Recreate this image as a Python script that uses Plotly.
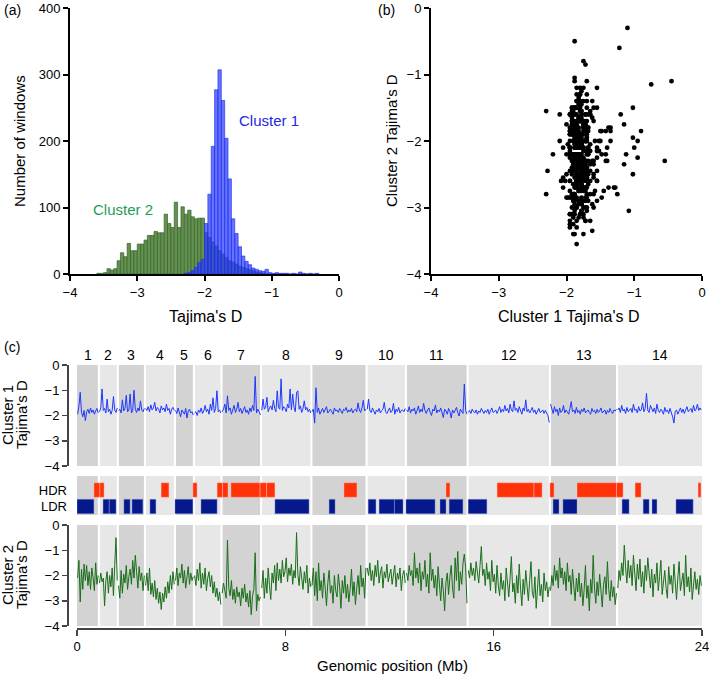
import plotly.graph_objects as go

W, H = 709, 674
def px(x): return x / W
def py(y): return 1 - y / H

# ---------------- Panel (a): histogram counts (bin width 0.05) ----------------
HIST_WIDTH = 0.05
CLUSTER2_HIST_START = -3.60
CLUSTER2_COUNTS = [1, 1, 2, 8, 6, 8, 20, 32, 26, 46, 35, 35, 45, 45, 51, 58, 58, 64, 62, 62,
                   90, 76, 70, 108, 70, 101, 90, 96, 86, 83, 84, 84, 62, 55, 48, 42, 35, 30, 25, 20,
                   18, 15, 12, 10, 8, 7, 5, 3, 2, 1]
CLUSTER1_HIST_START = -2.30
CLUSTER1_COUNTS = [1, 2, 5, 10, 17, 22, 76, 120, 192, 277, 307, 261, 204, 143, 83, 61, 41, 27, 19, 14,
                   9, 7, 5, 4, 7, 2, 1, 2, 1, 1, 1, 0, 1, 0, 3, 1, 0, 1, 0, 1]

# ---------------- Panel (c): genome layout ----------------
CHROM_NAMES = ["1", "2", "3", "4", "5", "6", "7", "8", "9", "10", "11", "12", "13", "14"]
CHROM_BOUNDS_MB = [0, 0.84, 1.57, 2.61, 3.76, 4.49, 5.55, 7.07, 9.0, 11.12, 12.63, 15.0, 18.16, 20.74, 24.0]

HDR_START = [0.65, 0.88, 3.23, 4.45, 5.38, 5.59, 5.91, 7.03, 7.28, 10.25, 14.17, 16.13, 17.55, 18.16, 19.20, 20.72, 21.43, 23.85]
HDR_END   = [0.88, 1.04, 3.53, 4.61, 5.59, 5.80, 7.03, 7.28, 7.60, 10.75, 14.32, 17.55, 17.86, 18.32, 20.72, 20.97, 21.66, 23.96]
LDR_START = [0.0, 1.0, 1.24, 1.80, 2.11, 2.80, 3.76, 4.76, 7.60, 9.68, 11.18, 11.60, 12.19, 12.63, 13.94, 14.29, 15.02, 18.28, 18.66, 20.93, 21.74, 22.08, 23.0]
LDR_END   = [0.65, 1.24, 1.50, 2.04, 2.53, 3.03, 4.45, 5.38, 8.91, 9.91, 11.48, 12.19, 12.52, 13.75, 14.17, 14.82, 15.74, 18.51, 19.20, 21.20, 21.97, 22.27, 23.66]

# Tajima's D per window (windows evenly spaced along each chromosome)
CLUSTER1_D = [
    [-1.95,-1.62,-1.08,-1.88,-2.05,-1.80,-2.20,-1.85,-1.75,-1.92,-1.70,-1.88,-1.78,-1.95,-1.82,-1.72,-1.90],
    [-1.85,-1.70,-0.95,-1.80,-1.72,-1.90,-1.35,-1.85,-1.75,-1.95,-1.80,-1.25,-1.78,-1.88,-1.70],
    [-1.80,-1.75,-1.90,-1.38,-1.82,-1.72,-1.20,-1.85,-1.78,-1.15,-1.90,-1.80,-1.00,-1.75,-1.88,-1.70,-1.82,-1.42,-1.78,-1.85,-1.72],
    [-1.72,-1.80,-1.65,-1.85,-1.58,-1.78,-1.70,-1.48,-1.82,-1.68,-1.75,-1.90,-1.62,-1.78,-1.70,-1.85,-1.55,-1.80,-1.72,-1.95,-1.75,-1.68,-1.80],
    [-1.80,-1.92,-1.70,-1.88,-2.05,-1.78,-1.85,-1.95,-1.72,-2.10,-1.82,-1.75,-1.90,-1.85,-1.98],
    [-1.90,-1.85,-2.00,-1.78,-1.88,-1.70,-1.92,-1.82,-1.60,-1.85,-1.75,-1.95,-1.55,-1.80,-1.30,-1.88,-1.72,-1.02,-1.85,-1.78,-1.90],
    [-1.85,-1.75,-1.55,-1.90,-1.22,-1.80,-1.70,-1.95,-1.78,-1.60,-1.88,-1.75,-1.48,-1.85,-1.72,-1.92,-1.80,-1.65,-1.88,-1.78,-1.95,-1.70,-1.85,-1.60,-1.80,-0.45,-1.90,-1.75,-1.85,-1.98],
    [-1.80,-1.35,-1.75,-1.68,-1.28,-1.85,-1.70,-1.62,-1.78,-1.40,-1.72,-1.85,-1.02,-1.68,-1.75,-0.55,-1.80,-1.65,-1.72,-1.85,-1.55,-1.70,-0.95,-1.78,-1.15,-1.68,-1.85,-1.10,-1.02,-1.75,-1.62,-1.88,-1.72,-1.42,-1.78,-1.68,-1.85,-1.75,-1.90],
    [-1.85,-1.75,-2.30,-0.90,-1.88,-1.70,-1.95,-1.80,-1.72,-1.88,-1.78,-1.65,-1.90,-1.82,-1.75,-1.85,-1.95,-1.70,-1.82,-1.78,-1.88,-1.72,-1.85,-1.92,-1.75,-1.80,-1.68,-1.88,-1.78,-1.85,-1.72,-1.90,-1.80,-1.75,-1.85,-1.50,-1.78,-1.88,-1.70,-1.40,-1.82,-1.75],
    [-1.75,-1.35,-1.80,-1.88,-1.70,-1.82,-1.95,-1.78,-1.85,-1.72,-1.90,-1.80,-1.75,-1.48,-1.85,-1.92,-1.78,-1.70,-1.88,-1.82,-1.52,-1.95,-1.75,-1.85,-1.68,-1.90,-1.80,-1.78,-1.85,-1.72],
    [-1.78,-1.85,-1.65,-1.90,-1.75,-1.82,-1.70,-1.95,-1.80,-1.62,-1.88,-1.75,-1.85,-1.52,-1.80,-1.92,-1.78,-1.70,-1.88,-2.00,-1.75,-1.82,-1.58,-1.90,-1.78,-1.85,-1.70,-1.88,-2.08,-1.75,-1.82,-1.95,-1.72,-1.85,-2.10,-1.78,-1.90,-1.80,-1.68,-1.88,-2.02,-1.75,-1.85,-1.92,-0.75,-1.80,-1.95],
    [-1.88,-1.80,-1.92,-1.75,-1.85,-1.90,-1.78,-1.95,-1.82,-1.88,-1.72,-1.85,-1.92,-1.80,-1.88,-1.75,-1.95,-1.82,-1.70,-1.88,-1.85,-1.78,-1.92,-1.80,-1.65,-1.88,-1.75,-1.85,-1.60,-1.82,-1.72,-1.90,-1.55,-1.78,-1.85,-1.42,-1.80,-1.72,-1.88,-1.65,-1.78,-1.95,-1.70,-1.82,-1.38,-1.85,-1.75,-1.90,-1.80,-1.68,-1.88,-1.78,-1.95,-1.82,-1.72,-1.88,-1.85,-1.78,-1.92,-1.80,-1.88,-2.00,-2.28],
    [-1.55,-1.80,-1.92,-1.65,-1.85,-1.75,-2.00,-1.70,-1.88,-1.82,-1.60,-1.90,-1.78,-1.85,-1.95,-1.72,-1.45,-1.85,-1.78,-1.92,-1.68,-1.88,-1.80,-1.95,-1.75,-1.85,-1.70,-1.90,-1.82,-1.78,-1.88,-1.95,-1.72,-1.85,-1.80,-1.92,-1.75,-1.88,-1.82,-1.70,-1.90,-1.85,-1.78,-1.95,-1.80,-1.88,-1.72,-1.85,-1.92,-1.78,-1.82,-1.75],
    [-1.78,-1.70,-1.88,-1.60,-1.82,-1.75,-1.92,-1.68,-1.85,-1.78,-1.72,-1.88,-1.55,-1.80,-1.75,-1.90,-1.65,-1.82,-1.78,-1.50,-1.85,-1.72,-1.12,-1.80,-1.88,-1.60,-1.75,-1.85,-1.70,-1.92,-1.55,-1.80,-1.88,-1.75,-1.82,-1.95,-1.68,-1.85,-1.78,-1.92,-1.72,-1.88,-2.05,-2.30,-1.85,-1.78,-1.95,-1.82,-1.70,-1.88,-1.75,-1.92,-1.80,-1.65,-1.85,-1.78,-1.72,-1.88,-1.60,-1.82,-1.75,-1.55,-1.80,-1.70,-1.78],
]

CLUSTER2_D = [
    [-2.10,-1.40,-3.05,-1.75,-2.55,-1.55,-2.20,-1.60,-2.40,-1.85,-2.55,-1.70,-2.10,-2.60,-1.50,-2.35,-2.00],
    [-2.30,-1.90,-2.25,-2.10,-3.20,-2.20,-1.85,-2.70,-2.00,-2.45,-1.70,-2.80,-1.60,-0.50,-2.20],
    [-2.40,-2.90,-1.80,-2.70,-1.95,-2.30,-1.60,-2.55,-2.05,-1.75,-2.35,-1.40,-2.10,-1.20,-1.85,-2.50,-1.65,-2.20,-1.90,-2.60,-2.00],
    [-2.40,-1.90,-2.60,-1.70,-2.75,-2.30,-2.85,-2.20,-2.95,-2.50,-3.10,-2.65,-3.35,-2.70,-3.05,-2.45,-2.90,-2.25,-2.70,-2.00,-2.55,-1.85,-2.35],
    [-2.20,-1.70,-2.40,-1.90,-2.10,-1.55,-2.30,-1.80,-2.50,-2.00,-1.65,-2.35,-1.90,-2.20,-2.05],
    [-2.00,-2.40,-1.75,-2.20,-1.50,-2.50,-1.90,-2.35,-1.70,-2.60,-2.10,-1.85,-2.45,-2.00,-2.70,-2.25,-2.85,-2.50,-3.00,-2.65,-3.15],
    [-2.70,-2.30,-2.60,-2.90,-0.60,-2.50,-2.80,-2.20,-2.95,-2.55,-3.10,-2.45,-2.85,-2.65,-3.20,-2.50,-2.90,-2.35,-3.05,-2.70,-3.25,-2.60,-3.55,-2.80,-2.55,-1.10,-3.40,-2.75,-3.00,-2.85],
    [-2.50,-1.80,-2.90,-2.10,-2.70,-1.70,-2.40,-2.95,-1.90,-2.30,-1.60,-2.60,-1.50,-2.20,-1.75,-2.30,-1.40,-2.05,-1.85,-1.30,-2.25,-1.70,-2.00,-1.55,-2.35,-1.80,-2.10,-0.30,-1.95,-2.40,-1.65,-2.20,-2.55,-1.85,-2.30,-1.60,-2.70,-2.10,-2.45],
    [-2.40,-1.70,-2.80,-1.85,-3.00,-1.50,-2.60,-2.20,-2.90,-1.90,-2.50,-3.20,-2.30,-1.80,-2.70,-2.40,-3.10,-2.00,-2.60,-2.85,-1.95,-2.45,-3.30,-2.20,-2.70,-2.00,-2.90,-2.35,-3.05,-2.55,-1.75,-2.80,-2.25,-3.15,-2.50,-2.00,-2.75,-1.60,-2.45,-2.10,-2.90,-1.70],
    [-1.70,-2.00,-1.50,-2.20,-1.80,-2.40,-1.60,-2.05,-1.40,-2.30,-1.90,-1.65,-2.50,-1.85,-2.10,-1.55,-2.25,-1.95,-1.75,-2.35,-2.00,-1.60,-2.45,-1.90,-2.15,-1.70,-2.60,-2.00,-1.80,-2.30],
    [-1.90,-2.20,-1.60,-2.00,-1.80,-2.40,-1.10,-2.10,-1.70,-2.30,-1.50,-2.60,-1.85,-2.15,-1.40,-2.45,-1.95,-2.70,-1.10,-2.20,-1.75,-2.50,-2.00,-2.80,-1.65,-2.35,-3.00,-2.10,-2.60,-3.40,-2.25,-1.90,-2.75,-2.05,-1.60,-2.50,-2.90,-1.30,-2.20,-1.05,-2.60,-1.85,-2.35,-1.50,-1.15,-1.70,-3.10],
    [-1.80,-2.10,-1.50,-2.00,-1.70,-2.20,-1.45,-1.90,-2.30,-1.60,-0.85,-2.00,-1.75,-2.40,-1.50,-2.15,-1.85,-2.60,-1.40,-2.25,-1.95,-2.70,-1.60,-2.40,-2.80,-1.90,-2.55,-2.20,-3.00,-1.70,-2.45,-2.85,-2.10,-1.25,-2.65,-2.30,-3.10,-2.00,-2.70,-1.55,-2.50,-3.20,-2.15,-2.75,-1.80,-2.40,-3.00,-2.20,-1.45,-2.65,-2.90,-2.05,-3.30,-2.50,-1.75,-2.80,-2.35,-3.05,-1.90,-2.60,-2.25,-2.85,-2.45],
    [-2.60,-2.00,-2.40,-1.60,-2.20,-1.80,-2.50,-1.30,-2.10,-1.70,-2.35,-1.85,-2.60,-1.50,-2.25,-2.00,-2.75,-1.75,-2.45,-3.00,-2.10,-2.65,-1.90,-2.85,-2.30,-3.20,-2.55,-1.60,-2.90,-2.40,-3.40,-2.15,-2.70,-1.20,-2.50,-3.10,-2.25,-2.80,-1.95,-2.60,-3.25,-2.35,-2.05,-2.75,-1.45,-2.55,-3.00,-2.20,-2.85,-2.45,-3.15,-2.70],
    [-2.50,-1.80,-2.20,-1.50,-2.00,-0.80,-1.70,-2.30,-1.40,-2.10,-1.60,-2.40,-1.20,-1.90,-2.60,-1.55,-2.15,-1.35,-2.45,-1.85,-2.70,-1.60,-2.20,-1.30,-2.00,-2.50,-1.75,-2.85,-1.95,-2.30,-1.50,-2.60,-2.05,-1.40,-2.75,-2.20,-1.80,-2.50,-2.90,-1.65,-2.35,-2.00,-2.70,-1.55,-2.40,-2.95,-2.10,-1.45,-2.60,-2.25,-1.90,-2.80,-1.20,-2.45,-2.05,-2.65,-1.70,-2.95,-2.30,-1.85,-2.55,-2.15,-2.75,-2.00,-2.40],
]

FONT = "Liberation Sans, Arial, Helvetica, sans-serif"
BLUE_LINE = "rgb(30,55,255)"
GREEN_LINE = "rgb(25,110,25)"
BAND_DARK = "rgb(211,211,211)"
BAND_LIGHT = "rgb(231,231,231)"
HDR_COLOR = "rgb(255,50,10)"
LDR_COLOR = "rgb(5,25,140)"

fig = go.Figure()

# ---- histograms
x2 = [CLUSTER2_HIST_START + HIST_WIDTH * (i + 0.5) for i in range(len(CLUSTER2_COUNTS))]
x1 = [CLUSTER1_HIST_START + HIST_WIDTH * (i + 0.5) for i in range(len(CLUSTER1_COUNTS))]
fig.add_trace(go.Bar(x=x2, y=CLUSTER2_COUNTS, width=HIST_WIDTH, xaxis="x", yaxis="y",
                     marker=dict(color="rgb(100,145,80)", line=dict(color="rgb(55,100,45)", width=0.7))))
fig.add_trace(go.Bar(x=x1, y=CLUSTER1_COUNTS, width=HIST_WIDTH, xaxis="x", yaxis="y",
                     marker=dict(color="rgba(35,55,255,0.70)", line=dict(color="rgba(30,45,235,0.9)", width=0.7))))

# ---- genome-wide traces and scatter
def chrom_x(k, n):
    s, e = CHROM_BOUNDS_MB[k], CHROM_BOUNDS_MB[k + 1]
    step = (e - s) / n
    return [s + step * (i + 0.5) for i in range(n)]

l1x, l1y, l2x, l2y, sx, sy = [], [], [], [], [], []
for k in range(len(CHROM_NAMES)):
    a, b = CLUSTER1_D[k], CLUSTER2_D[k]
    l1x += chrom_x(k, len(a)) + [None]; l1y += a + [None]
    l2x += chrom_x(k, len(b)) + [None]; l2y += b + [None]
    for u, v in zip(a, b):
        sx.append(u); sy.append(v)

fig.add_trace(go.Scatter(x=sx, y=sy, mode="markers", xaxis="x2", yaxis="y2",
                         marker=dict(color="black", size=4.8, line=dict(width=0))))
fig.add_trace(go.Scatter(x=l1x, y=l1y, mode="lines", xaxis="x3", yaxis="y3",
                         line=dict(color=BLUE_LINE, width=1), connectgaps=False))
fig.add_trace(go.Scatter(x=l2x, y=l2y, mode="lines", xaxis="x3", yaxis="y5",
                         line=dict(color=GREEN_LINE, width=1), connectgaps=False))

# ---- HDR / LDR tracks (horizontal bars)
fig.add_trace(go.Bar(orientation="h", base=HDR_START, x=[e - s for s, e in zip(HDR_START, HDR_END)],
                     y=[1] * len(HDR_START), width=0.88, xaxis="x3", yaxis="y4",
                     marker=dict(color=HDR_COLOR, line=dict(color="rgba(255,200,190,0.7)", width=0.6))))
fig.add_trace(go.Bar(orientation="h", base=LDR_START, x=[e - s for s, e in zip(LDR_START, LDR_END)],
                     y=[0] * len(LDR_START), width=0.88, xaxis="x3", yaxis="y4",
                     marker=dict(color=LDR_COLOR, line=dict(color="rgba(150,160,220,0.7)", width=0.6))))

# ---- chromosome background bands
shapes = []
gap = 0.04
for k in range(len(CHROM_NAMES)):
    s, e = CHROM_BOUNDS_MB[k], CHROM_BOUNDS_MB[k + 1]
    x0 = s + (gap if k > 0 else 0)
    x1e = e - (gap if k < len(CHROM_NAMES) - 1 else 0)
    col = BAND_DARK if k % 2 == 0 else BAND_LIGHT
    for yr in ["y3 domain", "y4 domain", "y5 domain"]:
        shapes.append(dict(type="rect", xref="x3", yref=yr, x0=x0, x1=x1e, y0=0, y1=1,
                           fillcolor=col, line=dict(width=0), layer="below"))

annotations = []
for k, name in enumerate(CHROM_NAMES):
    annotations.append(dict(x=(CHROM_BOUNDS_MB[k] + CHROM_BOUNDS_MB[k + 1]) / 2, xref="x3",
                            y=py(355), yref="paper", text=name, showarrow=False,
                            font=dict(size=14, family=FONT), xanchor="center", yanchor="middle"))

def ann(text, x, y, size=14, color="black", angle=0, xanchor="center"):
    annotations.append(dict(text=text, x=px(x), y=py(y), xref="paper", yref="paper", showarrow=False,
                            font=dict(size=size, color=color, family=FONT), textangle=angle,
                            xanchor=xanchor, yanchor="middle"))

ann("(a)", 2, 10, 14, xanchor="left")
ann("(b)", 376, 10, 14, xanchor="left")
ann("(c)", 2, 347, 14, xanchor="left")
ann("Number of windows", 20, 141, 15, angle=-90)
ann("Tajima's D", 205, 316, 16)
ann("Cluster 2 Tajima's D", 392, 141, 15, angle=-90)
ann("Cluster 1 Tajima's D", 568, 316, 16)
ann("Cluster 1", 269, 120, 15, color="rgb(35,40,230)")
ann("Cluster 2", 123, 209, 15, color="rgb(30,160,85)")
ann("Cluster 1", 7, 415, 15, angle=-90)
ann("Tajima's D", 21, 415, 15, angle=-90)
ann("Cluster 2", 7, 575, 15, angle=-90)
ann("Tajima's D", 21, 575, 15, angle=-90)
ann("Genomic position (Mb)", 392, 665, 15)

axis_common = dict(showgrid=False, zeroline=False, showline=True, ticks="outside", automargin=False,
                   ticklabeloverflow="allow", tickfont=dict(size=13, family=FONT, color="black"))
ab = dict(axis_common, linecolor="black", linewidth=2, tickcolor="black", tickwidth=2, ticklen=5)
ac = dict(axis_common, linecolor="#444", linewidth=1.5, tickcolor="#444", tickwidth=1.5, ticklen=5)

TOP = 8
fig.update_layout(
    width=W, height=H, margin=dict(l=0, r=0, t=0, b=0, pad=0, autoexpand=False),
    paper_bgcolor="white", plot_bgcolor="rgba(0,0,0,0)", showlegend=False, barmode="overlay",
    font=dict(family=FONT, size=13, color="black"),
    xaxis=dict(ab, domain=[px(70), px(339)], range=[-4, 0], anchor="y", tickvals=[-4, -3, -2, -1, 0]),
    yaxis=dict(ab, domain=[py(274), py(TOP)], range=[0, 400], anchor="x", tickvals=[0, 100, 200, 300, 400]),
    xaxis2=dict(ab, domain=[px(431), px(702)], range=[-4, 0], anchor="y2", tickvals=[-4, -3, -2, -1, 0]),
    yaxis2=dict(ab, domain=[py(274), py(TOP)], range=[-4, 0], anchor="x2", tickvals=[-4, -3, -2, -1, 0]),
    xaxis3=dict(ac, domain=[px(77), px(702)], range=[0, 24], anchor="free", position=py(628),
                tickvals=[0, 8, 16, 24], ticklen=6),
    yaxis3=dict(ac, domain=[py(466), py(365)], range=[-4, 0], anchor="free", position=px(67),
                tickvals=[0, -1, -2, -3, -4]),
    yaxis4=dict(domain=[py(515), py(476)], range=[-0.515, 1.85], anchor="free", position=px(67),
                showgrid=False, zeroline=False, showline=False, ticks="", automargin=False,
                tickvals=[0, 1], ticktext=["LDR", "HDR"], tickfont=dict(size=13, family=FONT)),
    yaxis5=dict(ac, domain=[py(626), py(525)], range=[-4, 0], anchor="free", position=px(67),
                tickvals=[0, -1, -2, -3, -4]),
    shapes=shapes, annotations=annotations,
)

fig.write_html("out.html", config={"displayModeBar": False, "staticPlot": True},
               post_script="document.body.style.margin='0';document.body.style.padding='0';"
                           "document.body.style.overflow='hidden';")
